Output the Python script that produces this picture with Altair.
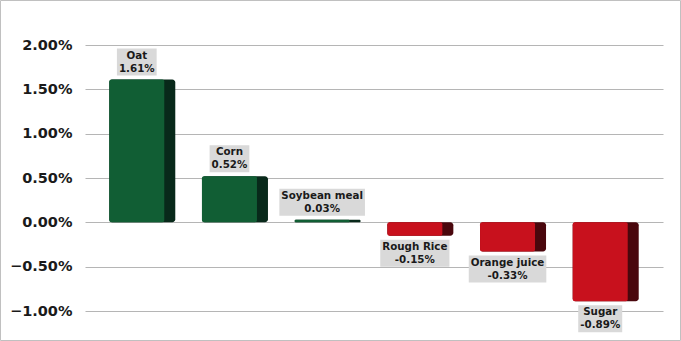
import altair as alt
import pandas as pd

categories = ["Oat", "Corn", "Soybean meal", "Rough Rice", "Orange juice", "Sugar"]
changes = [1.61, 0.52, 0.03, -0.15, -0.33, -0.89]
y_ticks = [-1.0, -0.5, 0.0, 0.5, 1.0, 1.5, 2.0]

W, H = 578, 266
Y_MIN, Y_MAX = -1.0, 2.0
px_per_unit = H / (Y_MAX - Y_MIN)

# approximate DejaVu Sans Bold advance widths (em)
char_em = {'O': 0.850, 'a': 0.675, 't': 0.478, 'C': 0.734, 'o': 0.687, 'r': 0.493,
           'n': 0.712, 'S': 0.720, 'y': 0.652, 'b': 0.716, 'e': 0.678, 'm': 1.042,
           'l': 0.343, ' ': 0.348, 'R': 0.770, 'u': 0.712, 'g': 0.716, 'h': 0.712,
           'i': 0.343, 'c': 0.593, 'j': 0.343, '.': 0.380, '%': 1.002, '-': 0.415}
for d in "0123456789":
    char_em[d] = 0.696

LABEL_SIZE = 10.3
LINE_H = 13


def text_w(s):
    return sum(char_em.get(c, 0.65) for c in s) * LABEL_SIZE


rows = []
for c, v in zip(categories, changes):
    pct = f"{v:.2f}%"
    sign = 1 if v >= 0 else -1
    half = 13.5 / px_per_unit
    mid = v + sign * (4 + 13.5) / px_per_unit
    rows.append(dict(
        cat=c, value=v, label=c + "\n" + pct,
        box_w=max(text_w(c), text_w(pct)) + 4,
        box_lo=mid - half, box_hi=mid + half, box_mid=mid,
        front="#115e34" if v >= 0 else "#c8111d",
        side="#08291a" if v >= 0 else "#4a070d",
    ))
df = pd.DataFrame(rows)

xenc = alt.X("cat:N", sort=categories, axis=None,
             scale=alt.Scale(paddingInner=0.288, paddingOuter=0.262))
yscale = alt.Scale(domain=[Y_MIN, Y_MAX], nice=False, zero=False)

base = alt.Chart(df)

side = base.mark_bar(cornerRadius=3).encode(
    x=xenc,
    y=alt.Y("value:Q", scale=yscale, axis=alt.Axis(
        values=y_ticks, labelExpr="format(datum.value/100, '.2%')",
        grid=True, gridColor="#b5b5b5", gridWidth=1, domain=False, ticks=False,
        labelFont="DejaVu Sans", labelFontSize=14.5, labelFontWeight="bold",
        labelColor="#1a1a1a", labelPadding=13, title=None)),
    y2=alt.datum(0),
    color=alt.Color("side:N", scale=None),
)

front = base.mark_bar(width=55, xOffset=-5.5, cornerRadius=2).encode(
    x=xenc,
    y=alt.Y("value:Q", scale=yscale),
    y2=alt.datum(0),
    color=alt.Color("front:N", scale=None),
)

box = base.mark_bar(xOffset=-5.5, color="#d9d9d9").encode(
    x=xenc,
    y=alt.Y("box_lo:Q", scale=yscale),
    y2="box_hi:Q",
    size=alt.Size("box_w:Q", scale=None, legend=None),
)

text = base.mark_text(xOffset=-5.5, lineBreak="\n", font="DejaVu Sans",
                      fontWeight="bold", fontSize=LABEL_SIZE, baseline="middle",
                      lineHeight=LINE_H, dy=-LINE_H / 2, color="#1a1a1a").encode(
    x=xenc,
    y=alt.Y("box_mid:Q", scale=yscale),
    text="label:N",
)

border = alt.Chart(pd.DataFrame({"a": [0]})).mark_rect(
    fill=None, stroke="#c0c0c0", strokeWidth=1).encode(
    x=alt.value(-84.5), x2=alt.value(W + 17.5),
    y=alt.value(-44.5), y2=alt.value(H + 29.5),
)

chart = alt.layer(side, front, box, text, border).properties(
    width=W, height=H,
    padding={"left": 85, "top": 45, "right": 18, "bottom": 30},
    autosize=alt.AutoSizeParams(type="none"),
    background="white",
).configure_view(stroke=None)

chart.save("out.html", embed_options={"renderer": "svg", "actions": False})
